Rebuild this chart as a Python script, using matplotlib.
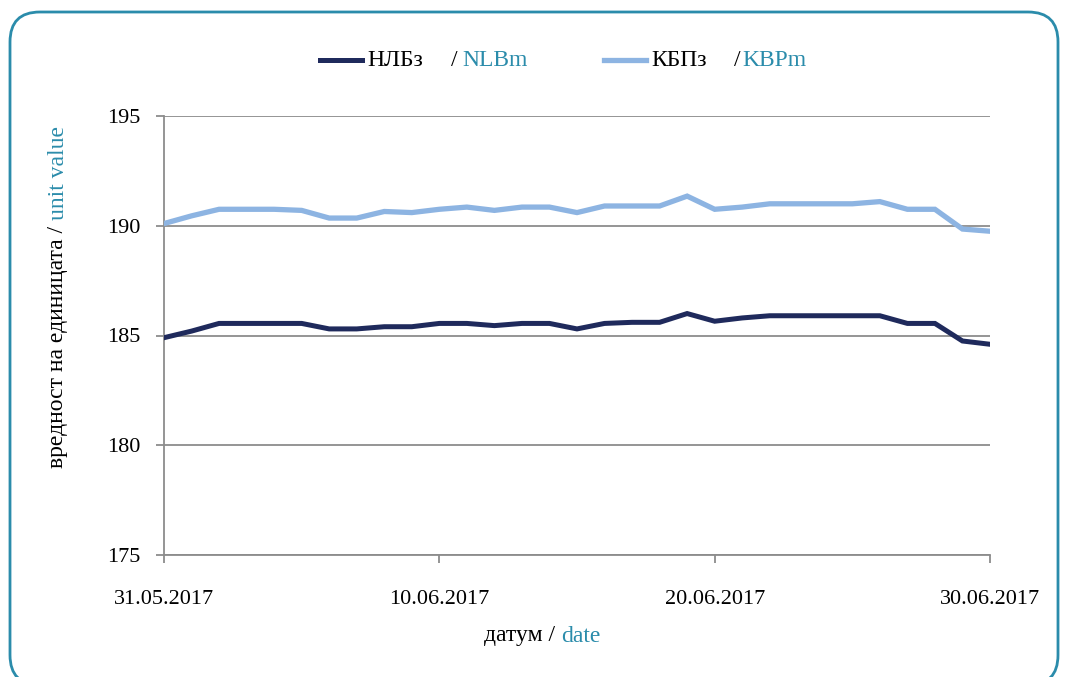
import matplotlib
matplotlib.use('Agg')
import matplotlib.pyplot as plt
from matplotlib.patches import FancyBboxPatch
from matplotlib.lines import Line2D
import numpy as np

# daily values, 31.05.2017 .. 30.06.2017
days = np.arange(31)
nlbm = [184.9, 185.2, 185.55, 185.55, 185.55, 185.55, 185.3, 185.3, 185.4, 185.4,
        185.55, 185.55, 185.45, 185.55, 185.55, 185.3, 185.55, 185.6, 185.6, 186.0,
        185.65, 185.8, 185.9, 185.9, 185.9, 185.9, 185.9, 185.55, 185.55, 184.75, 184.6]
kbpm = [190.1, 190.45, 190.75, 190.75, 190.75, 190.7, 190.35, 190.35, 190.65, 190.6,
        190.75, 190.85, 190.7, 190.85, 190.85, 190.6, 190.9, 190.9, 190.9, 191.35,
        190.75, 190.85, 191.0, 191.0, 191.0, 191.0, 191.1, 190.75, 190.75, 189.85, 189.75]
tick_pos = [0, 10, 20, 30]
tick_labels = ['31.05.2017', '10.06.2017', '20.06.2017', '30.06.2017']

dark = '#1f2a5c'
light = '#8db4e2'
teal = '#2b8cab'
plt.rcParams['font.family'] = ['Liberation Serif', 'DejaVu Serif']
fs = 17

W, H = 1068, 677
fig = plt.figure(figsize=(W / 100, H / 100), dpi=100)
ax = fig.add_axes([164 / W, 1 - 555 / H, (990 - 164) / W, (555 - 116) / H])

# rounded frame (top at y=12px, runs off the bottom)
fig.patches.append(FancyBboxPatch((10 / W, -8 / H), 1048 / W, (677 - 12 + 8) / H,
                                  boxstyle='round,pad=0,rounding_size=0.028',
                                  transform=fig.transFigure, fill=False,
                                  edgecolor=teal, linewidth=2, mutation_aspect=W / H))

ax.plot(days, nlbm, color=dark, lw=3.6, solid_joinstyle='miter', zorder=3)
ax.plot(days, kbpm, color=light, lw=3.8, solid_joinstyle='miter', zorder=3)

ax.set_xlim(0, 30)
ax.set_ylim(175, 195)
ax.set_yticks([175, 180, 185, 190, 195])
ax.set_xticks(tick_pos)
ax.set_xticklabels(tick_labels)
ax.yaxis.grid(True, color='#8c8c8c', lw=1.3)
ax.set_axisbelow(True)
for s in ['top', 'right']:
    ax.spines[s].set_visible(False)
for s in ['left', 'bottom']:
    ax.spines[s].set_color('#8c8c8c')
    ax.spines[s].set_linewidth(1.3)
ax.tick_params(axis='both', colors='#8c8c8c', labelcolor='black', labelsize=16,
               length=6, width=1.3, direction='out')
ax.tick_params(axis='x', pad=19)
ax.tick_params(axis='y', pad=11)

# legend drawn by hand (mixed colours)
def px(x, y):
    return x / W, 1 - y / H

fig.lines.append(Line2D([320 / W, 362 / W], [1 - 60 / H] * 2, color=dark, lw=3.6,
                        transform=fig.transFigure))
fig.lines.append(Line2D([604 / W, 646 / W], [1 - 60 / H] * 2, color=light, lw=3.8,
                        transform=fig.transFigure))
fig.text(*px(367, 60), 'НЛБз', fontsize=fs, va='center', ha='left')
fig.text(*px(451, 60), '/', fontsize=fs, va='center', ha='left')
fig.text(*px(462, 60), 'NLBm', fontsize=fs, va='center', ha='left', color=teal)
fig.text(*px(651, 60), 'КБПз', fontsize=fs, va='center', ha='left')
fig.text(*px(734, 60), '/', fontsize=fs, va='center', ha='left')
fig.text(*px(742, 60), 'KBPm', fontsize=fs, va='center', ha='left', color=teal)

# axis titles with two colours
fig.canvas.draw()
r = fig.canvas.get_renderer()
t1 = fig.text(*px(58, 468), 'вредност на единицата / ', fontsize=fs, rotation=90,
              ha='center', va='bottom')
ext = t1.get_window_extent(r)
fig.text(58 / W, ext.y1 / H, 'unit value', fontsize=fs, rotation=90,
         ha='center', va='bottom', color=teal)

t2 = fig.text(*px(484, 636), 'датум / ', fontsize=fs, ha='left', va='center')
ext = t2.get_window_extent(r)
fig.text(ext.x1 / W, 1 - 636 / H, 'date', fontsize=fs, ha='left', va='center', color=teal)

fig.savefig('out.png', dpi=100)
